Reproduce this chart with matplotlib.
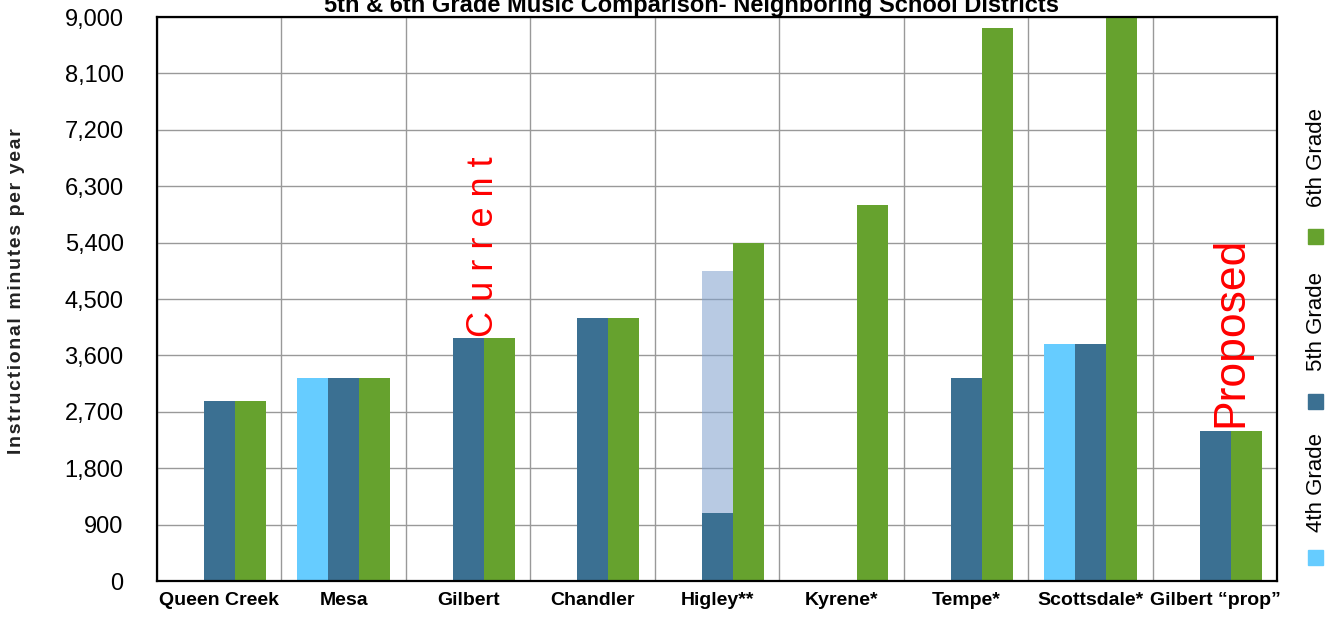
import numpy as np
import matplotlib
matplotlib.use("Agg")
import matplotlib.pyplot as plt
from matplotlib.patches import Rectangle

# data
districts = ["Queen Creek", "Mesa", "Gilbert", "Chandler", "Higley**",
             "Kyrene*", "Tempe*", "Scottsdale*", "Gilbert \u201cprop\u201d"]
grade4 = [0, 3240, 0, 0, 0, 0, 0, 3780, 0]
grade5 = [2880, 3240, 3870, 4200, 1080, 0, 3240, 3780, 2400]
grade5_extra = [0, 0, 0, 0, 3870, 0, 0, 0, 0]   # Higley light part above base
grade6 = [2880, 3240, 3870, 4200, 5400, 6000, 8820, 9000, 2400]
yticks = np.arange(0, 9001, 900)
legend_labels = ["4th Grade", "5th Grade", "6th Grade"]

c4, c5, c6 = "#66ccff", "#3b7092", "#66a22e"

fig = plt.figure(figsize=(13.29, 6.21), dpi=100)
ax = fig.add_axes([0.1181, 0.0644, 0.843, 0.9082])

x = np.arange(len(districts))
w = 0.25
ax.bar(x - w, grade4, w, color=c4, zorder=2)
ax.bar(x, grade5, w, color=c5, zorder=2)
ax.bar(x, grade5_extra, w, bottom=grade5, color="#7f9fcc", alpha=0.55, zorder=3)
ax.bar(x + w, grade6, w, color=c6, zorder=2)

ax.set_xlim(-0.5, len(districts) - 0.5)
ax.set_ylim(0, 9000)
ax.set_yticks(yticks)
ax.set_yticklabels([f"{v:,}" for v in yticks], fontsize=17, family="Liberation Sans")
ax.set_xticks(x)
ax.set_xticklabels(districts, fontsize=14, fontweight="bold", family="Liberation Sans")
ax.set_xticks(np.arange(len(districts) + 1) - 0.5, minor=True)
ax.tick_params(axis="both", which="both", length=0)
ax.tick_params(axis="y", pad=24)
ax.tick_params(axis="x", pad=8)
ax.grid(axis="y", color="#999999", lw=1, zorder=0)
ax.grid(axis="x", which="minor", color="#999999", lw=1, zorder=0)
for s in ax.spines.values():
    s.set_linewidth(1.6)
    s.set_zorder(4)

ylab = "\u200a".join("Instructional minutes per year")
ax.set_ylabel(ylab, fontsize=14, fontweight="bold", color="#222222",
              family=["Liberation Sans", "DejaVu Sans"])
ax.yaxis.set_label_coords(-0.118, 0.514)

ax.text(2.125, grade6[2] + 20, "C u r r e n t", rotation=90, color="red",
        fontsize=26, family="Liberation Sans", ha="center", va="bottom")
ax.text(8.125, grade6[8] + 60, "Proposed", rotation=90, color="red",
        fontsize=32, family="Liberation Sans", ha="center", va="bottom")

fig.text(0.52, 0.981, "5th & 6th Grade Music Comparison- Neighboring School Districts",
         fontsize=17, fontweight="bold", family="Liberation Sans",
         ha="center", va="baseline")

# rotated legend on the right
sq_y = [0.090, 0.342, 0.607]
tx_y = [0.223, 0.483, 0.746]
for col, lab, sy, ty in zip([c4, c5, c6], legend_labels, sq_y, tx_y):
    fig.patches.append(Rectangle((0.9842, sy), 0.0113, 0.0242, color=col,
                                 transform=fig.transFigure))
    fig.text(0.9905, ty, lab, rotation=90, fontsize=16, family="Liberation Sans",
             ha="center", va="center")

fig.savefig("out.png", dpi=100)
